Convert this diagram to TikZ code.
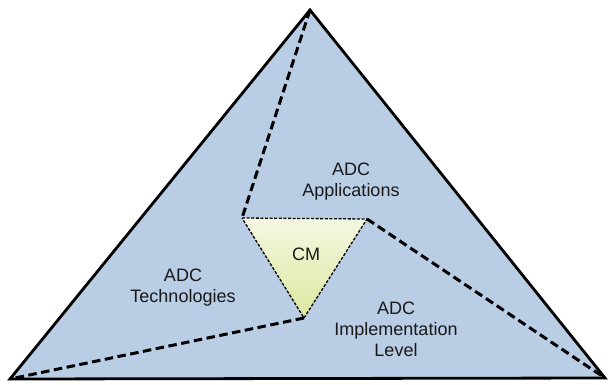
\documentclass[tikz,border=0pt]{standalone}
\usepackage{fontspec}
\setmainfont{Liberation Sans}
\definecolor{areaBlue}{HTML}{B9CDE5}
\definecolor{coreTop}{HTML}{F4F7E2}
\definecolor{coreBottom}{HTML}{DCE89E}

\tikzstyle{area} = [fill=areaBlue, draw=black, line width=2.8pt, line join=miter]
\tikzstyle{border} = [draw=black, line width=3pt, dash pattern=on 8.5pt off 4.5pt]
\tikzstyle{core} = [top color=coreTop, bottom color=coreBottom, draw=black, line width=1.3pt, dash pattern=on 3pt off 1.6pt]
\tikzstyle{areaText} = [align=center, text=black!90, font={\fontsize{18}{21}\selectfont}]

\begin{document}
\begin{tikzpicture}[x=1pt, y=-1pt]
            \useasboundingbox (0,0) rectangle (608,384);
            \coordinate (top) at (310,10);
            \coordinate (left) at (10,379);
            \coordinate (right) at (605,378);
            \coordinate (cmL) at (242,218);
            \coordinate (cmR) at (367,219);
            \coordinate (cmB) at (304,318);
            \draw[area] (top) -- (right) -- (left) -- cycle;
            \draw[core] (cmL) -- (cmR) -- (cmB) -- cycle;
            \draw[border] (top) -- (cmL);
            \draw[border] (cmR) -- (right);
            \draw[border] (cmB) -- (left);
            \node[areaText] (CM) at (306,254) {CM};
            \node[areaText] (app) at (351,182) {ADC\\Applications};
            \node[areaText] (tech) at (183,288) {ADC\\Technologies};
            \node[areaText] (impl) at (396,329) {ADC\\Implementation\\Level};
        \end{tikzpicture}
\end{document}
